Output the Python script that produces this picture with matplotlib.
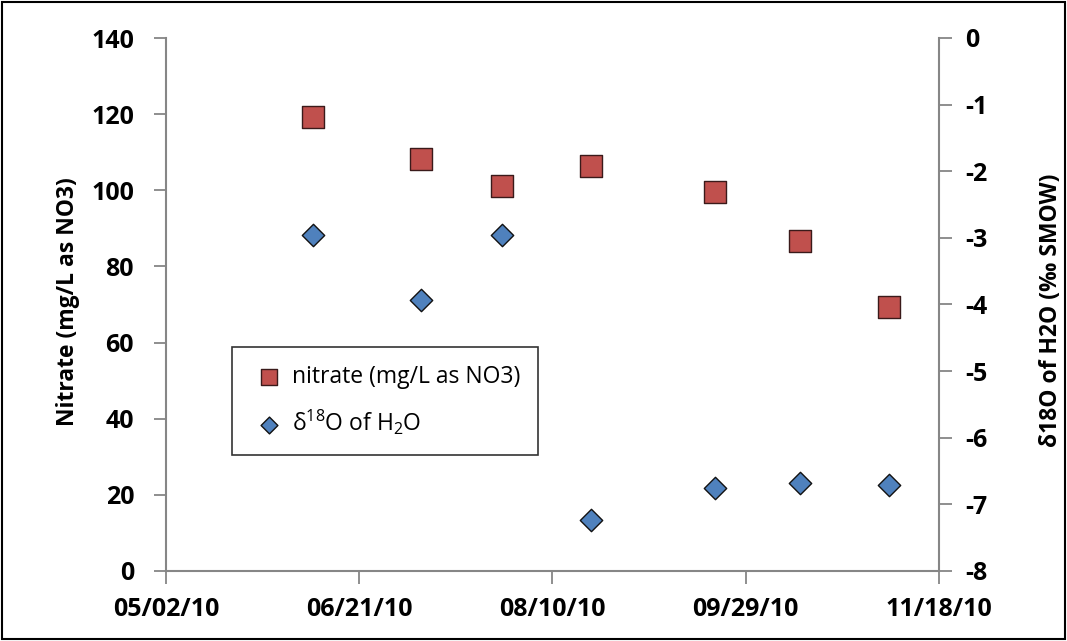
import matplotlib
matplotlib.use("Agg")
import matplotlib.pyplot as plt
import matplotlib.dates as mdates
from matplotlib.patches import Rectangle
import datetime as dt

# Data
sample_dates = ["2010-06-09", "2010-07-07", "2010-07-28", "2010-08-20",
                "2010-09-21", "2010-10-13", "2010-11-05"]
nitrate = [119.2, 108.2, 101.1, 106.4, 99.5, 86.7, 69.3]
d18o = [-2.96, -3.93, -2.96, -7.24, -6.76, -6.68, -6.71]
x_ticks = ["2010-05-02", "2010-06-21", "2010-08-10", "2010-09-29", "2010-11-18"]
left_ticks = [0, 20, 40, 60, 80, 100, 120, 140]
right_ticks = [0, -1, -2, -3, -4, -5, -6, -7, -8]

dates = [dt.datetime.strptime(d, "%Y-%m-%d") for d in sample_dates]
xt = [dt.datetime.strptime(d, "%Y-%m-%d") for d in x_ticks]

plt.rcParams['font.family'] = ['Open Sans', 'DejaVu Sans']
plt.rcParams['axes.unicode_minus'] = False
plt.rcParams['mathtext.default'] = 'regular'
W, H = 1067, 641
fig = plt.figure(figsize=(W / 100, H / 100), dpi=100)
ax = fig.add_axes([166 / W, (H - 571) / H, (939 - 166) / W, (571 - 38) / H])
ax2 = ax.twinx()

gray = "#868686"
sq = ax.scatter(dates, nitrate, marker="s", s=250, color="#C0504D",
                edgecolors="#3a1a1a", linewidths=1.0, zorder=3,
                label="nitrate (mg/L as NO3)")
dm = ax2.scatter(dates, d18o, marker="D", s=130, color="#4F81BD",
                 edgecolors="#111111", linewidths=1.0, zorder=3,
                 label=r"δ$^{18}$O of H$_2$O")

ax.set_xlim(xt[0], xt[-1])
ax.set_xticks(xt)
ax.xaxis.set_major_formatter(mdates.DateFormatter("%m/%d/%y"))
ax.set_ylim(0, 140)
ax.set_yticks(left_ticks)
ax2.set_ylim(-8, 0)
ax2.set_yticks(right_ticks)

for a in (ax, ax2):
    a.spines["top"].set_visible(False)
    for s in ("left", "right", "bottom"):
        a.spines[s].set_color(gray)
        a.spines[s].set_linewidth(1.5)
    a.tick_params(axis="both", colors=gray, length=9, width=1.3,
                  labelsize=18, labelcolor="black", pad=7)
ax.spines["right"].set_visible(False)
ax2.spines["left"].set_visible(False)
ax2.spines["bottom"].set_visible(False)
ax.tick_params(axis="x", pad=10)
ax.tick_params(axis="y", pad=14)
ax2.tick_params(axis="y", pad=10)

for lbl in ax.get_xticklabels() + ax.get_yticklabels() + ax2.get_yticklabels():
    lbl.set_fontweight("bold")

ax.set_ylabel("Nitrate (mg/L as NO3)", fontsize=16.5, fontweight="bold")
ax2.set_ylabel("δ18O of H2O (‰ SMOW)", fontsize=16.5, fontweight="bold")
ax.yaxis.set_label_coords((80 - 166) / 773, 0.505)
ax2.yaxis.set_label_coords((1039 - 166) / 773, 0.49)

leg = ax.legend(handles=[sq, dm], loc="upper left",
                bbox_to_anchor=((232 - 166) / (939 - 166), (571 - 347) / (571 - 38)),
                borderaxespad=0,
                fontsize=16.5, frameon=True, fancybox=False, edgecolor="black",
                handletextpad=0.2, labelspacing=0.8, borderpad=0.8,
                handlelength=1.6, markerscale=0.75)
leg.get_frame().set_linewidth(1.2)

fig.patches.append(Rectangle((2 / W, 2 / H), (W - 4) / W, (H - 4) / H,
                             transform=fig.transFigure, fill=False,
                             edgecolor="black", linewidth=1.5))

fig.savefig("out.png", dpi=100)
